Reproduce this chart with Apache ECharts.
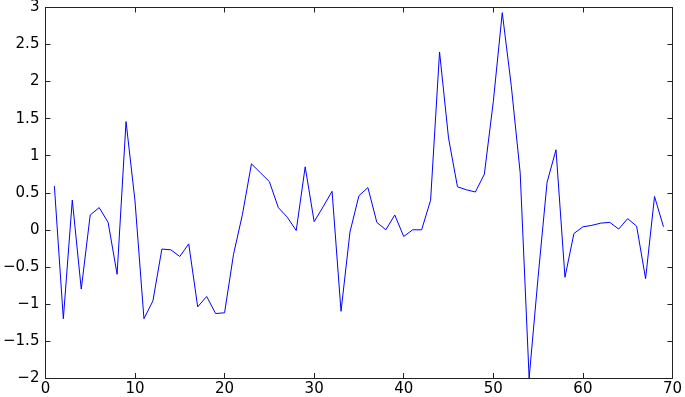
<!DOCTYPE html>
<html><head><meta charset="utf-8">
<script src="https://cdn.jsdelivr.net/npm/echarts@6/dist/echarts.min.js"></script>
<style>html,body{margin:0;padding:0;background:#fff}#c{width:685px;height:397px}</style>
</head><body><div id="c"></div>
<script>
var xs = [1,2,3,4,5,6,7,8,9,10,11,12,13,14,15,16,17,18,19,20,21,22,23,24,25,26,27,28,29,30,31,32,33,34,35,36,37,38,39,40,41,42,43,44,45,46,47,48,49,50,51,52,53,54,55,56,57,58,59,60,61,62,63,64,65,66,67,68,69];
var ys = [0.59,-1.20,0.40,-0.80,0.20,0.30,0.10,-0.60,1.46,0.39,-1.20,-0.96,-0.26,-0.27,-0.36,-0.19,-1.04,-0.90,-1.13,-1.12,-0.33,0.21,0.89,0.77,0.65,0.30,0.17,-0.01,0.85,0.11,0.31,0.52,-1.10,-0.03,0.46,0.57,0.10,0.00,0.20,-0.09,0.00,0.00,0.40,2.40,1.24,0.58,0.54,0.51,0.75,1.73,2.93,1.95,0.77,-2.00,-0.64,0.64,1.08,-0.64,-0.05,0.04,0.06,0.09,0.10,0.01,0.15,0.05,-0.66,0.45,0.04];
var yTicks = [-2,-1.5,-1,-0.5,0,0.5,1,1.5,2,2.5,3];
var data = xs.map(function(x,i){return [x, ys[i]];});
var chart = echarts.init(document.getElementById('c'), null, {renderer:'canvas'});
var font = {color:'#000', fontSize:15, fontFamily:'DejaVu Sans, Arial, sans-serif'};
function fmt(v){ return (v<0?'\u2212':'') + Math.abs(v); }
var axLine = {show:true, onZero:false, lineStyle:{color:'#222', width:1}};
var tick = {show:true, inside:true, length:5, lineStyle:{color:'#222'}};
chart.setOption({
  animation:false,
  grid:{left:43, right:11, top:5, bottom:19, containLabel:false},
  xAxis:[
    {type:'value', min:0, max:70, interval:10, axisLine:axLine, axisTick:tick, splitLine:{show:false},
     axisLabel:Object.assign({margin:4, formatter:fmt}, font)},
    {type:'value', position:'top', min:0, max:70, interval:10, axisLine:axLine, axisTick:tick, splitLine:{show:false}, axisLabel:{show:false}}
  ],
  yAxis:[
    {type:'value', min:-2, max:3, interval:0.5, axisLine:axLine, axisTick:tick, splitLine:{show:false},
     axisLabel:Object.assign({margin:6, formatter:fmt}, font)},
    {type:'value', position:'right', min:-2, max:3, interval:0.5, axisLine:axLine, axisTick:tick, splitLine:{show:false}, axisLabel:{show:false}}
  ],
  series:[{type:'line', data:data, showSymbol:false, symbol:'none', lineStyle:{color:'#0000ff', width:1}, xAxisIndex:0, yAxisIndex:0}]
});
</script></body></html>
